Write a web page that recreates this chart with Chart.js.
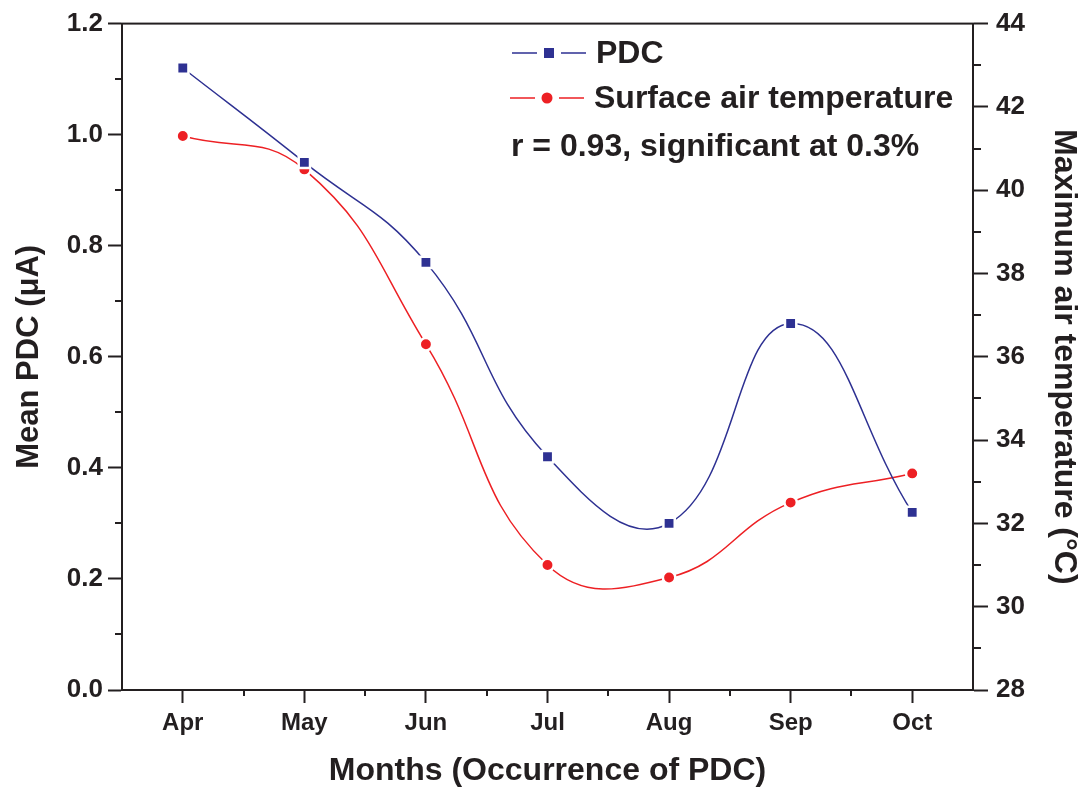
<!DOCTYPE html>
<html>
<head>
<meta charset="utf-8">
<style>
  html, body { margin: 0; padding: 0; background: #fff; }
  #wrap { width: 1086px; height: 793px; position: relative; }
</style>
<script src="https://cdn.jsdelivr.net/npm/chart.js@4.4.1/dist/chart.umd.min.js"></script>
</head>
<body>
<div id="wrap"><canvas id="c" width="1086" height="793"></canvas></div>
<script>
const months = ['Apr', 'May', 'Jun', 'Jul', 'Aug', 'Sep', 'Oct'];
const pdcValues = [1.12, 0.95, 0.77, 0.42, 0.30, 0.66, 0.32];
const tempValues = [41.3, 40.5, 36.3, 31.0, 30.7, 32.5, 33.2];
const pdcLabel = 'PDC';
const tempLabel = 'Surface air temperature';
const noteText = 'r = 0.93, significant at 0.3%';
const xTitle = 'Months (Occurrence of PDC)';
const yTitle = 'Mean PDC (\u03BCA)';
const y2Title = 'Maximum air temperature (\u00B0C)';

const INK = '#231f20';
const BLUE = '#2e3192';
const RED = '#ed2024';
const FONT = "'Liberation Sans', Arial, sans-serif";
const NARROW = "'Liberation Sans Narrow', 'Liberation Sans', Arial, sans-serif";

const decor = {
  id: 'decor',
  afterDraw(chart) {
    const ctx = chart.ctx;
    const a = chart.chartArea;
    const x = chart.scales.x, y = chart.scales.y, y2 = chart.scales.y2;
    ctx.save();
    ctx.strokeStyle = INK;
    ctx.lineWidth = 2;
    ctx.strokeRect(a.left, a.top, a.right - a.left, a.bottom - a.top);
    // minor ticks
    ctx.beginPath();
    for (let v = 0.1; v < 1.2; v += 0.2) {
      const p = Math.round(y.getPixelForValue(v));
      ctx.moveTo(a.left, p); ctx.lineTo(a.left - 7, p);
    }
    for (let v = 29; v < 44; v += 2) {
      const p = Math.round(y2.getPixelForValue(v));
      ctx.moveTo(a.right, p); ctx.lineTo(a.right + 8, p);
    }
    for (let i = 0; i < months.length - 1; i++) {
      const p = Math.round((x.getPixelForValue(i) + x.getPixelForValue(i + 1)) / 2);
      ctx.moveTo(p, a.bottom); ctx.lineTo(p, a.bottom + 6);
    }
    ctx.stroke();
    // legend
    const rows = [
      {ds: chart.data.datasets[0], y: 53, x0: 512, text: pdcLabel},
      {ds: chart.data.datasets[1], y: 98, x0: 510, text: tempLabel}
    ];
    rows.forEach(r => {
      ctx.strokeStyle = r.ds.borderColor;
      ctx.lineWidth = 1.5;
      ctx.beginPath();
      ctx.moveTo(r.x0, r.y); ctx.lineTo(r.x0 + 25, r.y);
      ctx.moveTo(r.x0 + 49, r.y); ctx.lineTo(r.x0 + 74, r.y);
      ctx.stroke();
      ctx.fillStyle = r.ds.pointBackgroundColor;
      if (r.ds.pointStyle === 'rect') {
        ctx.fillRect(r.x0 + 37 - 5, r.y - 5, 10, 10);
      } else {
        ctx.beginPath(); ctx.arc(r.x0 + 37, r.y, 5.5, 0, Math.PI * 2); ctx.fill();
      }
      ctx.fillStyle = INK;
      ctx.font = 'bold 32px ' + FONT;
      ctx.textBaseline = 'middle';
      ctx.fillText(r.text, r.x0 + 84, r.y + 1);
    });
    ctx.font = 'bold 32px ' + FONT;
    ctx.fillStyle = INK;
    ctx.textBaseline = 'middle';
    ctx.fillText(noteText, 511, 147);
    ctx.restore();
  }
};

new Chart(document.getElementById('c'), {
  type: 'line',
  data: {
    labels: months,
    datasets: [
      {
        label: pdcLabel, data: pdcValues, yAxisID: 'y',
        borderColor: BLUE, borderWidth: 1.5, tension: 0.45,
        pointStyle: 'rect', pointRadius: 8, pointBackgroundColor: BLUE,
        pointBorderColor: '#ffffff', pointBorderWidth: 2.5
      },
      {
        label: tempLabel, data: tempValues, yAxisID: 'y2',
        borderColor: RED, borderWidth: 1.5, tension: 0.45,
        pointStyle: 'circle', pointRadius: 6.2, pointBackgroundColor: RED,
        pointBorderColor: '#ffffff', pointBorderWidth: 2.5
      }
    ]
  },
  options: {
    responsive: false,
    animation: false,
    layout: { padding: { top: 22, left: 0, right: 0, bottom: 0 } },
    plugins: { legend: { display: false }, tooltip: { enabled: false } },
    scales: {
      x: {
        type: 'category', offset: true,
        afterFit: s => { s.height = 103; },
        grid: { drawOnChartArea: false, drawTicks: true, tickLength: 13, tickWidth: 2, tickColor: INK, offset: false },
        border: { display: true, color: INK, width: 2 },
        ticks: { color: INK, font: { family: NARROW, size: 24, weight: 'bold' }, padding: 6, maxRotation: 0 },
        title: { display: true, text: xTitle, color: INK, font: { family: NARROW, size: 32, weight: 'bold' }, padding: { top: 0, bottom: 3 } }
      },
      y: {
        position: 'left', min: 0, max: 1.2,
        afterFit: s => { s.width = 122; },
        grid: { drawOnChartArea: false, drawTicks: true, tickLength: 14, tickWidth: 2, tickColor: INK },
        border: { display: true, color: INK, width: 2 },
        ticks: { stepSize: 0.2, color: INK, font: { family: FONT, size: 26, weight: 'bold' }, padding: 5,
          callback: v => Number(v).toFixed(1) },
        title: { display: true, text: yTitle, color: INK, font: { family: NARROW, size: 31, weight: 'bold' }, padding: { top: 11, bottom: 0 } }
      },
      y2: {
        position: 'right', min: 28, max: 44,
        afterFit: s => { s.width = 113; },
        grid: { drawOnChartArea: false, drawTicks: true, tickLength: 15, tickWidth: 2, tickColor: INK },
        border: { display: true, color: INK, width: 2 },
        ticks: { stepSize: 2, color: INK, font: { family: FONT, size: 26, weight: 'bold' }, padding: 8 },
        title: { display: true, text: y2Title, color: INK, font: { family: NARROW, size: 32, weight: 'bold' }, padding: { top: 3, bottom: 0 } }
      }
    }
  },
  plugins: [decor]
});
</script>
</body>
</html>
